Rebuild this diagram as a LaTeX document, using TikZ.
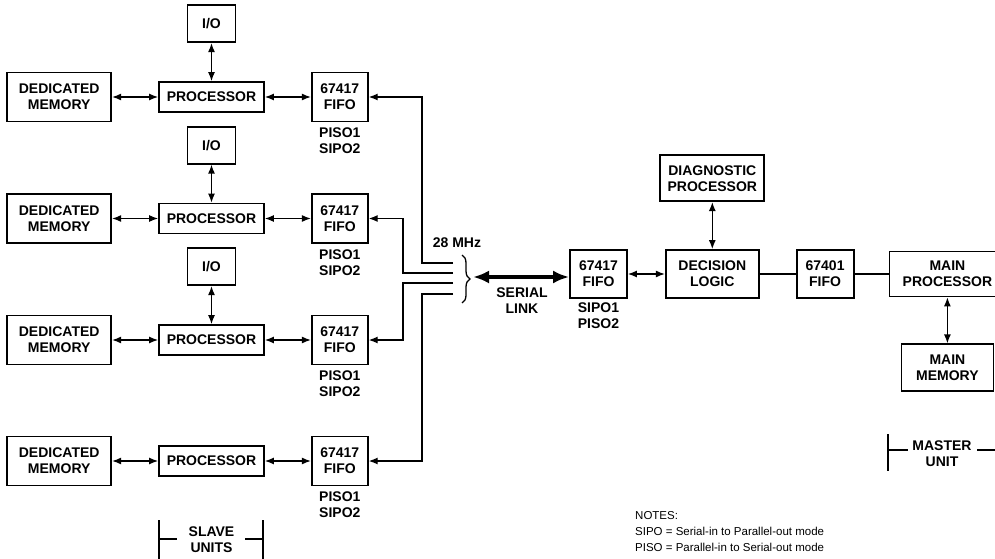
\documentclass[tikz,border=0pt]{standalone}
\usepackage{fontspec}
\setmainfont{Liberation Sans}
\usetikzlibrary{arrows.meta, positioning, decorations.pathreplacing}
\tikzset{
    box/.style={draw, line width=1.8pt, align=center, fill=white,
                font=\bfseries\fontsize{14}{16}\selectfont, inner sep=0pt},
    membox/.style={box, minimum width=104pt, minimum height=49pt},
    procbox/.style={box, minimum width=105pt, minimum height=30pt},
    fifobox/.style={box, minimum width=56pt, minimum height=49pt},
    iobox/.style={box, minimum width=48pt, minimum height=37pt},
    lbl/.style={align=center, font=\bfseries\fontsize{14}{16}\selectfont, inner sep=0pt, outer sep=0pt},
    note/.style={align=left, font=\fontsize{11.5}{16}\selectfont, inner sep=0pt},
    link/.style={line width=1.3pt},
    arrow/.style={-{Latex[length=9pt,width=7pt]}, line width=1.3pt},
    both/.style={{Latex[length=9pt,width=7pt]}-{Latex[length=9pt,width=7pt]}, line width=1.3pt},
    serial/.style={{Latex[length=16pt,width=13pt]}-{Latex[length=16pt,width=13pt]}, line width=4pt},
}

\begin{document}
\begin{tikzpicture}[x=1pt, y=-1pt, node distance=46pt]
    \useasboundingbox (0,0) rectangle (995,559);
    % slave unit 1
    \node[procbox] (p1) at (211.5,97) {PROCESSOR};
    \node[membox, left=of p1] (m1) {DEDICATED\\MEMORY};
    \node[fifobox, right=of p1] (f1) {67417\\FIFO};
    \node[iobox, above=38pt of p1] (io1) {I/O};
    \node[lbl, below=5.6pt of f1] (f1l) {PISO1\\SIPO2};
    \draw[both] (m1) -- (p1);
    \draw[both] (p1) -- (f1);
    \draw[both] (io1) -- (p1);
    % slave unit 2
    \node[procbox] (p2) at (211.5,218.5) {PROCESSOR};
    \node[membox, left=of p2] (m2) {DEDICATED\\MEMORY};
    \node[fifobox, right=of p2] (f2) {67417\\FIFO};
    \node[iobox, above=38pt of p2] (io2) {I/O};
    \node[lbl, below=5.6pt of f2] (f2l) {PISO1\\SIPO2};
    \draw[both] (m2) -- (p2);
    \draw[both] (p2) -- (f2);
    \draw[both] (io2) -- (p2);
    % slave unit 3
    \node[procbox] (p3) at (211.5,340) {PROCESSOR};
    \node[membox, left=of p3] (m3) {DEDICATED\\MEMORY};
    \node[fifobox, right=of p3] (f3) {67417\\FIFO};
    \node[iobox, above=38pt of p3] (io3) {I/O};
    \node[lbl, below=5.6pt of f3] (f3l) {PISO1\\SIPO2};
    \draw[both] (m3) -- (p3);
    \draw[both] (p3) -- (f3);
    \draw[both] (io3) -- (p3);
    % slave unit 4
    \node[procbox] (p4) at (211.5,461) {PROCESSOR};
    \node[membox, left=of p4] (m4) {DEDICATED\\MEMORY};
    \node[fifobox, right=of p4] (f4) {67417\\FIFO};
    \node[lbl, below=5.6pt of f4] (f4l) {PISO1\\SIPO2};
    \draw[both] (m4) -- (p4);
    \draw[both] (p4) -- (f4);
    \node[lbl] (su) at (211.5,539.5) {SLAVE\\UNITS};
    \draw[link] (159,520) -- (159,562) (159,539) -- (177,539)
                (245,539) -- (263,539) (263,520) -- (263,562);
    % serial bus
    \coordinate (b1) at (453,263);
    \coordinate (b2) at (453,273);
    \coordinate (b3) at (453,283);
    \coordinate (b4) at (453,294);
    \draw[arrow] (b1) -- ++(-31,0) |- (f1);
    \draw[arrow] (b2) -- ++(-50,0) |- (f2);
    \draw[arrow] (b3) -- ++(-50,0) |- (f3);
    \draw[arrow] (b4) -- ++(-31,0) |- (f4);
    \draw[decorate, decoration={brace, amplitude=8pt}, line width=1.3pt] (462,255) -- (462,303);
    \node[lbl] (mhz) at (457,243) {28 MHz};
    \coordinate (tip) at (473,277);
    \node[lbl] (sl) at (522,300.5) {SERIAL\\LINK};
    % master unit
    \node[fifobox, minimum width=57pt, minimum height=48pt] (mf) at (598.5,274) {67417\\FIFO};
    \node[lbl, below=4pt of mf] (mfl) {SIPO1\\PISO2};
    \node[box, minimum width=93pt, minimum height=48pt, right=37pt of mf] (dl) {DECISION\\LOGIC};
    \node[box, minimum width=104pt, minimum height=46pt, above=47pt of dl] (dp) {DIAGNOSTIC\\PROCESSOR};
    \node[fifobox, minimum width=57pt, minimum height=48pt, right=36pt of dl] (f5) {67401\\FIFO};
    \node[box, minimum width=116pt, minimum height=45pt, right=34pt of f5] (mp) {MAIN\\PROCESSOR};
    \node[box, minimum width=92pt, minimum height=47pt, below=46pt of mp] (mm) {MAIN\\MEMORY};
    \draw[serial] (tip) -- (tip -| mf.west);
    \draw[both] (mf) -- (dl);
    \draw[both] (dp) -- (dl);
    \draw[link] (dl) -- (f5);
    \draw[link] (f5) -- (mp);
    \draw[both] (mp) -- (mm);
    \node[lbl] (mu) at (942,453.5) {MASTER\\UNIT};
    \draw[link] (888,434) -- (888,471) (888,450) -- (908,450) (977,450) -- (1000,450);
    % notes
    \node[note, anchor=north west] (notes) at (635,511) {NOTES:\\SIPO = Serial-in to Parallel-out mode\\PISO = Parallel-in to Serial-out mode};
\end{tikzpicture}
\end{document}
